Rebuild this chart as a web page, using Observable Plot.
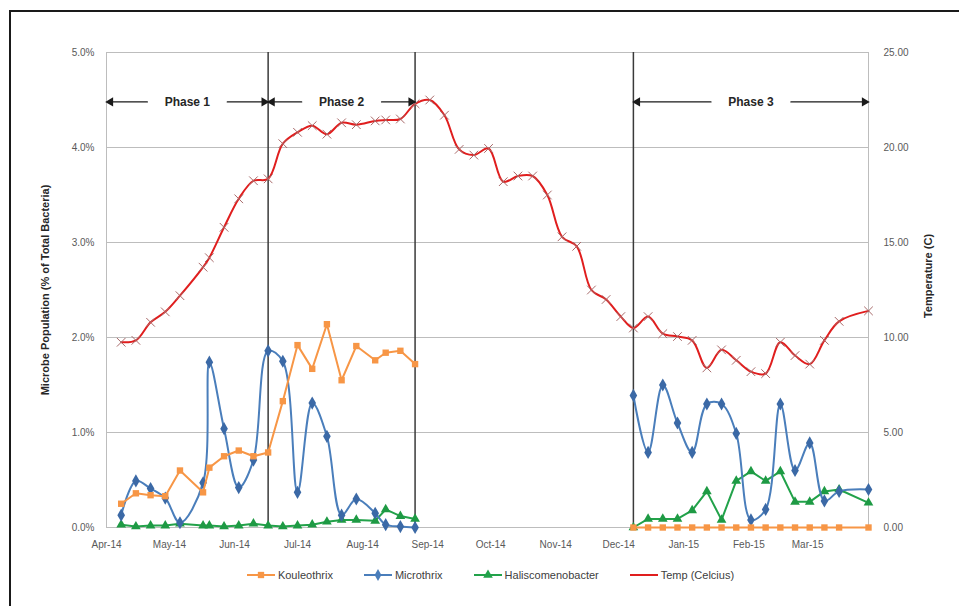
<!DOCTYPE html>
<html>
<head>
<meta charset="utf-8">
<script src="https://cdn.jsdelivr.net/npm/d3@7"></script>
<script src="https://cdn.jsdelivr.net/npm/@observablehq/plot@0.6"></script>
<style>
html, body { margin: 0; padding: 0; background: #fff; width: 959px; height: 606px; overflow: hidden; font-family: "Liberation Sans", Arial, sans-serif; }
#frame { position: absolute; left: 9px; top: 10px; width: 1200px; height: 900px; border: 2px solid #1a1a1a; box-sizing: border-box; }
#chart { position: absolute; left: 0; top: 0; }
#legend { position: absolute; left: 0; top: 569px; width: 980px; display: flex; justify-content: center; gap: 30px; font-size: 11px; color: #404040; }
.item { display: flex; align-items: center; gap: 2px; }
</style>
</head>
<body>
<div id="frame"></div>
<div id="chart"></div>
<div id="legend"></div>
<script>
// ---- data ----
const sampleDates12 = ["2014-04-08","2014-04-15","2014-04-22","2014-04-29","2014-05-06","2014-05-17","2014-05-20","2014-05-27","2014-06-03","2014-06-10","2014-06-17","2014-06-24","2014-07-01","2014-07-08","2014-07-15","2014-07-22","2014-07-29","2014-08-07","2014-08-12","2014-08-19","2014-08-26"];
const sampleDates3 = ["2014-12-08","2014-12-15","2014-12-22","2014-12-29","2015-01-05","2015-01-12","2015-01-19","2015-01-26","2015-02-02","2015-02-09","2015-02-16","2015-02-23","2015-03-02","2015-03-09","2015-03-16","2015-03-30"];

const kouleothrix12 = [0.25,0.36,0.34,0.33,0.60,0.37,0.63,0.75,0.81,0.75,0.79,1.33,1.92,1.67,2.14,1.55,1.91,1.76,1.84,1.86,1.72];
const kouleothrix3  = [0,0,0,0,0,0,0,0,0,0,0,0,0,0,0,0];
const microthrix12  = [0.13,0.49,0.41,0.31,0.05,0.47,1.74,1.04,0.42,0.71,1.86,1.75,0.37,1.31,0.96,0.13,0.30,0.15,0.03,0.01,0.0];
const microthrix3   = [1.39,0.79,1.50,1.10,0.79,1.30,1.30,0.99,0.08,0.19,1.30,0.60,0.89,0.28,0.38,0.40];
const halisco12     = [0.03,0.01,0.02,0.02,0.04,0.02,0.02,0.01,0.02,0.04,0.02,0.01,0.02,0.03,0.06,0.08,0.08,0.07,0.19,0.12,0.09];
const halisco3      = [0.0,0.09,0.09,0.09,0.18,0.38,0.08,0.49,0.59,0.49,0.59,0.27,0.27,0.38,0.40,0.26];

const tempDates = sampleDates12.concat(["2014-09-02","2014-09-09","2014-09-16","2014-09-23","2014-09-30","2014-10-07","2014-10-14","2014-10-21","2014-10-28","2014-11-04","2014-11-11","2014-11-18","2014-11-25","2014-12-02"], sampleDates3);
const tempC = [9.75,9.85,10.8,11.35,12.2,13.7,14.2,15.8,17.3,18.25,18.35,20.2,20.8,21.15,20.7,21.3,21.2,21.4,21.45,21.5,22.3,
               22.5,21.7,19.9,19.6,19.95,18.2,18.5,18.5,17.5,15.3,14.8,12.5,12.0,11.1,
               10.5,11.1,10.2,10.05,9.85,8.4,9.35,8.8,8.2,8.1,9.75,9.05,8.6,9.85,10.85,11.4];

const seriesNames = ["Kouleothrix","Microthrix","Haliscomenobacter","Temp (Celcius)"];
const seriesColors = ["#f79646","#4a7ebb","#22a24a","#e01e1e"];

const phaseNames = ["Phase 1","Phase 2","Phase 3"];
const phaseStart = ["2014-04-01","2014-06-17","2014-12-08"];
const phaseEnd   = ["2014-06-17","2014-08-26","2015-03-30"];
const boundaryDates = ["2014-06-17","2014-08-26","2014-12-08"];
const monthTicks = ["2014-04-01","2014-05-01","2014-06-01","2014-07-01","2014-08-01","2014-09-01","2014-10-01","2014-11-01","2014-12-01","2015-01-01","2015-02-01","2015-03-01"];
const leftTicks = [0,1,2,3,4,5];          // percent
const rightTicks = [0,5,10,15,20,25];     // Celsius
const xStart = "2014-04-01", xEnd = "2015-03-30";

// ---- build ----
const parse = d3.utcParse("%Y-%m-%d");
function rowsOf(dates, vals, series, period, scale = 1) {
  return dates.map((d, i) => ({date: parse(d), value: vals[i] / scale, series, period}));
}
const koul = rowsOf(sampleDates12, kouleothrix12, seriesNames[0], "a").concat(rowsOf(sampleDates3, kouleothrix3, seriesNames[0], "b"));
const micro = rowsOf(sampleDates12, microthrix12, seriesNames[1], "a").concat(rowsOf(sampleDates3, microthrix3, seriesNames[1], "b"));
const hali = rowsOf(sampleDates12, halisco12, seriesNames[2], "a").concat(rowsOf(sampleDates3, halisco3, seriesNames[2], "b"));
const temp = rowsOf(tempDates, tempC, seriesNames[3], "a", 5); // 5 °C per 1 %

const phases = phaseNames.map((name, i) => {
  const s = parse(phaseStart[i]), e = parse(phaseEnd[i]);
  return {name, start: s, end: e, mid: new Date((+s + +e) / 2)};
});
const phaseY = 4.48;

const font = "Liberation Sans, Arial, sans-serif";
const gray = "#595959";
const ink = "#1a1a1a";

const plot = Plot.plot({
  width: 959,
  height: 560,
  marginLeft: 106,
  marginRight: 91,
  marginTop: 52,
  marginBottom: 33,
  style: {fontFamily: font, background: "transparent", overflow: "visible"},
  x: {type: "utc", domain: [parse(xStart), parse(xEnd)]},
  y: {domain: [0, 5]},
  marks: [
    Plot.ruleY(leftTicks, {stroke: "#bdbdbd", strokeWidth: 1}),
    Plot.ruleX([parse(xStart), parse(xEnd)], {stroke: "#bdbdbd", strokeWidth: 1}),
    Plot.ruleX(boundaryDates, {x: d => parse(d), y1: 0, y2: 5, stroke: "#3a3a3a", strokeWidth: 1.5}),

    Plot.line(hali, {x: "date", y: "value", z: "period", stroke: seriesColors[2], strokeWidth: 2}),
    Plot.dot(hali, {x: "date", y: "value", symbol: "triangle", r: 3.6, fill: "#1e9a44", stroke: "none"}),

    Plot.line(micro, {x: "date", y: "value", z: "period", stroke: seriesColors[1], strokeWidth: 2, curve: "catmull-rom"}),
    Plot.dot(micro, {x: "date", y: "value", symbol: "diamond", r: 4, fill: "#3b69a6", stroke: "none"}),

    Plot.line(koul, {x: "date", y: "value", z: "period", stroke: seriesColors[0], strokeWidth: 2}),
    Plot.dot(koul, {x: "date", y: "value", symbol: "square", r: 3.6, fill: seriesColors[0], stroke: "none"}),

    Plot.line(temp, {x: "date", y: "value", stroke: seriesColors[3], strokeWidth: 2, curve: "catmull-rom"}),
    Plot.dot(temp, {x: "date", y: "value", symbol: "times", r: 4, stroke: "#a86a6a", strokeWidth: 1}),

    // phase annotations: shafts
    Plot.arrow(phases, {x1: "mid", x2: "start", y1: phaseY, y2: phaseY, insetStart: 40, insetEnd: 5, headLength: 0, stroke: ink, strokeWidth: 1.4}),
    Plot.arrow(phases, {x1: "mid", x2: "end", y1: phaseY, y2: phaseY, insetStart: 40, insetEnd: 5, headLength: 0, stroke: ink, strokeWidth: 1.4}),
    // filled heads
    Plot.dot(phases, {x: "start", y: phaseY, symbol: "triangle", r: 3.4, rotate: -90, dx: 4, fill: ink, stroke: "none"}),
    Plot.dot(phases, {x: "end", y: phaseY, symbol: "triangle", r: 3.4, rotate: 90, dx: -4, fill: ink, stroke: "none"}),
    Plot.text(phases, {x: "mid", y: phaseY, text: "name", fontSize: 12, fontWeight: "bold", fill: "#262626"}),

    // axes
    Plot.axisX(monthTicks.map(parse), {tickFormat: d3.utcFormat("%b-%y"), tickSize: 0, tickPadding: 13, fontSize: 10, color: gray, label: null}),
    Plot.axisY(leftTicks, {anchor: "left", tickFormat: d => d.toFixed(1) + "%", tickSize: 0, tickPadding: 12, fontSize: 10, color: gray, label: null}),
    Plot.axisY(rightTicks.map(t => t / 5), {anchor: "right", tickFormat: d => (d * 5).toFixed(2), tickSize: 0, tickPadding: 15, fontSize: 10, color: gray, label: null}),
    Plot.text(["Microbe Population (% of Total Bacteria)"], {text: d => d, frameAnchor: "left", textAnchor: "middle", dx: -61, rotate: -90, fontSize: 11, fontWeight: "bold", fill: "#262626"}),
    Plot.text(["Temperature (C)"], {text: d => d, frameAnchor: "right", textAnchor: "middle", dx: 60, dy: -14, rotate: -90, fontSize: 11, fontWeight: "bold", fill: "#262626"})
  ]
});
document.getElementById("chart").appendChild(plot);

// ---- legend ----
const symbols = ["square", "diamond", "triangle", null];
const legend = d3.select("#legend");
seriesNames.forEach((name, i) => {
  const item = legend.append("div").attr("class", "item");
  const svg = item.append("svg").attr("width", 30).attr("height", 12);
  svg.append("line").attr("x1", 1).attr("x2", 29).attr("y1", 6).attr("y2", 6).attr("stroke", seriesColors[i]).attr("stroke-width", 2);
  if (symbols[i]) {
    const sym = {square: d3.symbolSquare, diamond: d3.symbolDiamond, triangle: d3.symbolTriangle}[symbols[i]];
    svg.append("path").attr("d", d3.symbol(sym, 40)()).attr("transform", "translate(15,6)").attr("fill", seriesColors[i]);
  }
  item.append("span").text(name);
});
</script>
</body>
</html>
